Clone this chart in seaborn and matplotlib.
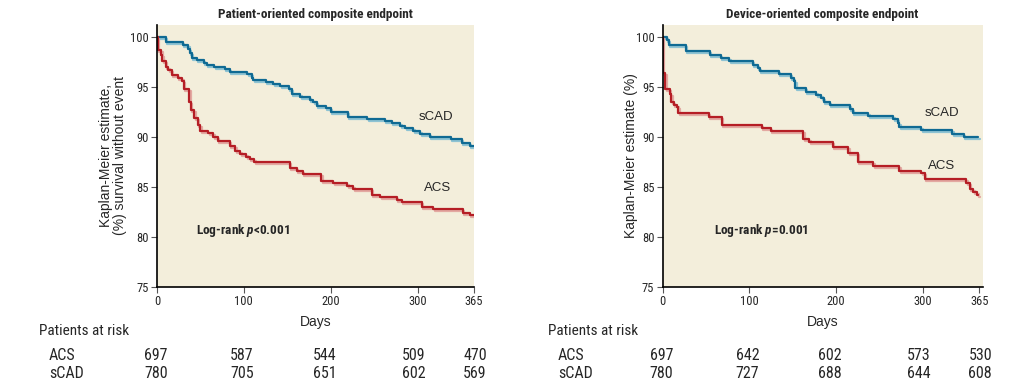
import matplotlib
matplotlib.use("Agg")
import matplotlib.pyplot as plt
import matplotlib.patheffects as pe
import matplotlib.transforms as mtransforms
import seaborn as sns

# Kaplan-Meier step curves (day, % event-free)
poce_scad_days = [0, 10, 30, 36, 38, 40, 46, 54, 57, 66, 78, 84, 104, 109, 111, 125, 134, 142, 152, 155,
                  165, 176, 180, 184, 194, 200, 220, 242, 262, 270, 280, 286, 295, 303, 314, 338, 351, 360, 365]
poce_scad_surv = [100, 99.5, 99.2, 98.8, 98.4, 97.9, 97.7, 97.4, 97.2, 97.0, 96.8, 96.5, 96.3, 95.9, 95.7, 95.5,
                  95.3, 95.1, 94.8, 94.3, 94.0, 93.7, 93.5, 93.1, 92.9, 92.5, 92.0, 91.8, 91.6, 91.4, 91.1, 90.9,
                  90.6, 90.3, 90.0, 89.8, 89.4, 89.1, 89.1]
poce_acs_days = [0, 1, 5, 6, 10, 13, 17, 24, 29, 31, 37, 39, 43, 47, 50, 59, 65, 70, 84, 90, 96, 103, 107, 112,
                 153, 161, 168, 189, 203, 219, 226, 247, 257, 276, 282, 305, 318, 352, 360, 365]
poce_acs_surv = [100, 98.7, 98.2, 97.6, 97.0, 96.7, 96.2, 95.9, 95.6, 94.8, 93.5, 92.7, 91.9, 91.2, 90.6, 90.4,
                 90.0, 89.6, 89.1, 88.6, 88.3, 88.0, 87.8, 87.5, 86.9, 86.6, 86.3, 85.6, 85.4, 85.1, 84.8, 84.2,
                 84.0, 83.7, 83.5, 83.0, 82.8, 82.4, 82.2, 82.2]

doce_scad_days = [0, 5, 7, 27, 54, 67, 77, 104, 110, 112, 134, 148, 151, 153, 165, 177, 183, 186, 193, 216,
                  219, 237, 266, 271, 273, 298, 334, 347, 364]
doce_scad_surv = [100, 99.7, 99.2, 98.6, 98.2, 97.9, 97.6, 97.2, 96.9, 96.6, 96.3, 95.9, 95.6, 94.9, 94.5, 94.2,
                  93.9, 93.5, 93.2, 92.8, 92.4, 92.1, 91.8, 91.4, 91.0, 90.7, 90.3, 90.0, 90.0]
doce_acs_days = [0, 0.5, 3, 8, 10, 13, 17, 18, 53, 68, 114, 125, 162, 169, 196, 214, 225, 243, 273, 298, 302,
                 350, 354, 358, 363, 364]
doce_acs_surv = [100, 96.4, 94.8, 94.3, 93.5, 93.2, 93.0, 92.4, 92.0, 91.2, 90.9, 90.6, 89.8, 89.5, 89.0, 88.4,
                 87.5, 87.1, 86.6, 86.4, 85.8, 85.4, 84.8, 84.5, 84.2, 84.2]

# patients at risk
risk_days = [0, 100, 200, 300, 365]
poce_risk_acs = [697, 587, 544, 509, 470]
poce_risk_scad = [780, 705, 651, 602, 569]
doce_risk_acs = [697, 642, 602, 573, 530]
doce_risk_scad = [780, 727, 688, 644, 608]

x_ticks = [0, 100, 200, 300, 365]
y_ticks = [75, 80, 85, 90, 95, 100]

BLUE = "#0f6a93"
RED = "#b51e25"
BG = "#f3eedb"
NARROW = ["Roboto Condensed", "DejaVu Sans"]
REG = ["Liberation Sans", "DejaVu Sans"]

sns.set_style("ticks")
plt.rcParams["font.family"] = REG
plt.rcParams["mathtext.fontset"] = "custom"
plt.rcParams["mathtext.rm"] = "Roboto Condensed:bold"
plt.rcParams["mathtext.it"] = "Roboto Condensed:bold:italic"

fig = plt.figure(figsize=(10.33, 3.84), dpi=100)
ax1 = fig.add_axes([0.152, 0.2526, 0.3069, 0.6823])
ax2 = fig.add_axes([0.6415, 0.2526, 0.3098, 0.6823])

# small pixel nudges so the at-risk columns sit like the original table
col_nudge = [-1, -2, -6, -4, 1]


def km_line(ax, days, surv, color, shadow):
    sns.lineplot(x=days, y=surv, ax=ax, color=color, lw=1.6, estimator=None,
                 drawstyle="steps-post", legend=False,
                 path_effects=[pe.SimpleLineShadow(offset=(1, -1.2), shadow_color=shadow, alpha=1),
                               pe.Normal()])


panels = [
    (ax1, "Patient-oriented composite endpoint", "Kaplan-Meier estimate,\n(%) survival without event", 2,
     poce_scad_days, poce_scad_surv, poce_acs_days, poce_acs_surv, 365,
     (301, 92.0), (307, 84.9), (45, 80.7), r"Log-rank $p$<0.001", poce_risk_acs, poce_risk_scad),
    (ax2, "Device-oriented composite endpoint", "Kaplan-Meier estimate (%)", -2,
     doce_scad_days, doce_scad_surv, doce_acs_days, doce_acs_surv, 369,
     (302, 92.4), (306, 87.1), (59, 80.7), r"Log-rank $p$=0.001", doce_risk_acs, doce_risk_scad),
]

for (ax, title, ylab, lpad, sd, ss, ad, asv, xmax, scad_pos, acs_pos, lr_pos, lr_txt,
     r_acs, r_scad) in panels:
    ax.set_facecolor(BG)
    km_line(ax, sd, ss, BLUE, "#8ec3d3")
    km_line(ax, ad, asv, RED, "#e3a9a2")
    ax.set_xlim(0, xmax)
    ax.set_ylim(75, 101.2)
    ax.set_xticks(x_ticks)
    ax.set_yticks(y_ticks)
    ax.set_xticklabels([str(t) for t in x_ticks], fontfamily=NARROW, fontsize=9)
    ax.set_yticklabels([str(t) for t in y_ticks], fontfamily=NARROW, fontsize=9)
    ax.tick_params(axis="both", length=4, width=0.8, color="#555555", pad=2)
    sns.despine(ax=ax)
    for s in ["left", "bottom"]:
        ax.spines[s].set_linewidth(1.2)
        ax.spines[s].set_color("black")
    ax.set_title(title, fontfamily=NARROW, fontweight="bold", fontsize=9.5, pad=5)
    ax.set_ylabel(ylab, fontsize=10, labelpad=lpad, linespacing=1.0)
    ax.set_xlabel("Days", fontsize=10, labelpad=4.5)
    ax.text(*scad_pos, "sCAD", fontsize=9.5, va="center", ha="left")
    ax.text(*acs_pos, "ACS", fontsize=9.5, va="center", ha="left")
    ax.text(*lr_pos, lr_txt, fontsize=9.5, fontweight="bold", fontfamily=NARROW,
            va="center", ha="left")

    # at-risk table below the axes
    tr = mtransforms.blended_transform_factory(ax.transData, fig.transFigure)
    for d, a, s, nx in zip(risk_days, r_acs, r_scad, col_nudge):
        off = mtransforms.offset_copy(tr, fig=fig, x=nx, units="dots")
        ax.text(d, 1 - 355 / 384, str(a), transform=off, ha="center", va="center",
                fontfamily=NARROW, fontsize=11.5, clip_on=False)
        ax.text(d, 1 - 373.5 / 384, str(s), transform=off, ha="center", va="center",
                fontfamily=NARROW, fontsize=11.5, clip_on=False)

for x0 in [39 / 1033, 548 / 1033]:
    fig.text(x0, 1 - 331 / 384, "Patients at risk", fontfamily=NARROW, fontsize=11,
             ha="left", va="center")
    fig.text(x0 + 10 / 1033, 1 - 355 / 384, "ACS", fontfamily=NARROW, fontsize=11.5,
             ha="left", va="center")
    fig.text(x0 + 10 / 1033, 1 - 373.5 / 384, "sCAD", fontfamily=NARROW, fontsize=11.5,
             ha="left", va="center")

fig.savefig("out.png", dpi=100, facecolor="white")
